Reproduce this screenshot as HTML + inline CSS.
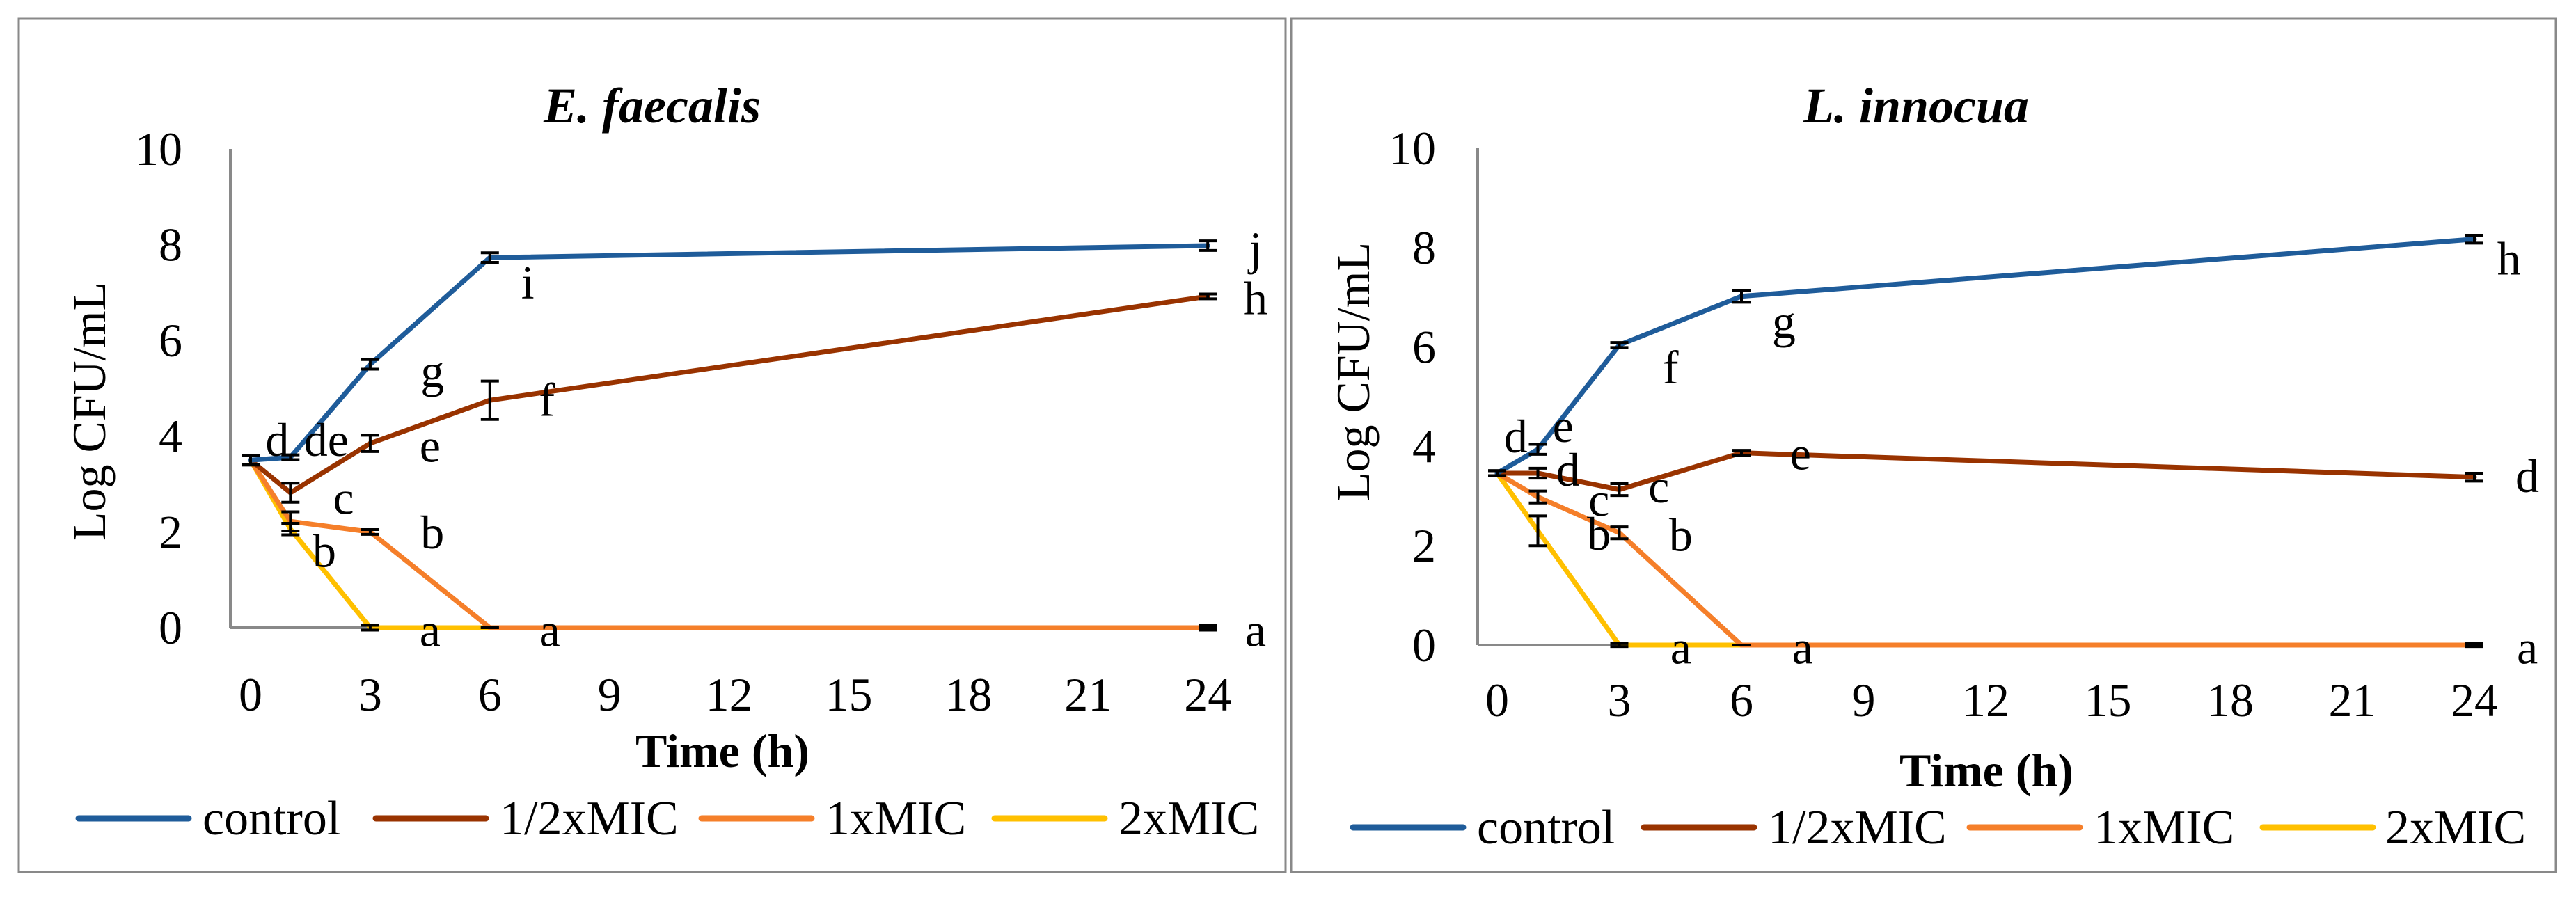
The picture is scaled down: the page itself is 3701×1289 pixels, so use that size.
<!DOCTYPE html>
<html><head><meta charset="utf-8">
<style>
html,body{margin:0;padding:0;background:#fff;}
svg{display:block;}
text{font-family:"Liberation Serif",serif;fill:#000;}
</style></head>
<body>
<svg id="fig" width="3701" height="1289" viewBox="0 0 3701 1289" xmlns="http://www.w3.org/2000/svg">
<rect x="0" y="0" width="3701" height="1289" fill="#fff"/>
<rect x="27" y="27" width="1820" height="1226" fill="none" stroke="#898989" stroke-width="3"/>
<rect x="1855" y="27" width="1817" height="1226" fill="none" stroke="#898989" stroke-width="3"/>
</svg>
<script>
const times = [0, 1, 3, 6, 24];
const seriesNames = ["control", "1/2xMIC", "1xMIC", "2xMIC"];
const seriesColors = ["#1f5c9a", "#993300", "#f57f2a", "#ffc000"];
const xTicks = [0, 3, 6, 9, 12, 15, 18, 21, 24];
const yTicks = [0, 2, 4, 6, 8, 10];

// E. faecalis
const efControl = [3.5, 3.56, 5.5, 7.73, 7.98];
const efHalf = [3.5, 2.82, 3.85, 4.75, 6.92];
const efOne = [3.5, 2.22, 2.0, 0, 0];
const efTwo = [3.5, 2.06, 0, 0, 0];
const efControlErr = [0.1, 0.05, 0.1, 0.1, 0.1];
const efHalfErr = [0.1, 0.2, 0.17, 0.4, 0.05];
const efOneErr = [0.1, 0.2, 0.05, 0, 0];
const efTwoErr = [0.1, 0.12, 0.05, 0, 0.05];
const efLetters = ["d","de","g","e","i","f","c","b","b","a","a","a","j","h"];
const efLetterX = [0.67,1.9,4.56,4.5,6.95,7.43,2.33,4.56,1.85,4.5,7.5,25.2,25.2,25.2];
const efLetterY = [3.85,3.85,5.29,3.73,7.14,4.69,2.64,1.92,1.53,-0.12,-0.12,-0.12,7.85,6.81];

// L. innocua
const liControl = [3.46, 3.94, 6.04, 7.02, 8.17];
const liHalf = [3.46, 3.46, 3.13, 3.87, 3.38];
const liOne = [3.46, 2.98, 2.26, 0, 0];
const liTwo = [3.46, 2.3, 0, 0, 0];
const liControlErr = [0.05, 0.1, 0.05, 0.12, 0.08];
const liHalfErr = [0.05, 0.1, 0.12, 0.05, 0.08];
const liOneErr = [0.05, 0.12, 0.12, 0, 0];
const liTwoErr = [0.05, 0.3, 0.03, 0, 0.03];
const liLetters = ["d","e","d","c","b","c","b","f","g","e","h","d","a","a","a"];
const liLetterX = [0.46,1.62,1.74,2.5,2.5,3.97,4.51,4.26,7.04,7.45,24.85,25.3,4.51,7.5,25.3];
const liLetterY = [4.13,4.34,3.46,2.86,2.17,3.12,2.15,5.52,6.44,3.79,7.71,3.33,-0.12,-0.12,-0.12];

const NS = "http://www.w3.org/2000/svg";
const svg = document.getElementById("fig");
function mk(tag, attrs, parent) {
  const e = document.createElementNS(NS, tag);
  for (const k in attrs) e.setAttribute(k, attrs[k]);
  (parent || svg).appendChild(e);
  return e;
}

function drawChart(cfg) {
  const g = mk("g", {});
  
  
  const X = h => cfg.x0 + h * cfg.xs;
  const Y = v => cfg.y0 - v * cfg.ys;
  const t = mk("text", {x: cfg.titleX, y: cfg.titleY + 24, "text-anchor": "middle", "font-size": 72, "font-style": "italic", "font-weight": "bold"}, g);
  t.textContent = cfg.title;
  
  
  const ya = mk("line", {x1: cfg.axisX, y1: Y(10), x2: cfg.axisX, y2: Y(0), stroke: "#898989", "stroke-width": 4}, g);
  
  
  const xa = mk("line", {x1: cfg.axisX, y1: Y(0), x2: X(24.1), y2: Y(0), stroke: "#898989", "stroke-width": 4}, g);
  
  
  yTicks.forEach(v => {
    const e = mk("text", {x: cfg.yLabelRight, y: Y(v) + 23, "text-anchor": "end", "font-size": 68}, g);
    e.textContent = String(v);
    
    
  });
  xTicks.forEach(v => {
    const e = mk("text", {x: X(v), y: cfg.xLabelY + 23, "text-anchor": "middle", "font-size": 68}, g);
    e.textContent = String(v);
    
    
  });
  const xt = mk("text", {x: cfg.xTitleX, y: cfg.xTitleY + 23, "text-anchor": "middle", "font-size": 68, "font-weight": "bold"}, g);
  xt.textContent = "Time (h)";
  
  
  const yt = mk("text", {x: 0, y: 0, "text-anchor": "middle", "font-size": 68, transform: `translate(${cfg.yTitleX + 23},${cfg.yTitleY}) rotate(-90)`}, g);
  yt.textContent = "Log CFU/mL";
  
  
  for (let s = 3; s >= 0; s--) {
    const vals = cfg.series[s];
    const pts = times.map((h, i) => X(h) + "," + Y(vals[i])).join(" ");
    const pl = mk("polyline", {points: pts, fill: "none", stroke: seriesColors[s], "stroke-width": 7, "stroke-linejoin": "round", "stroke-linecap": "round"}, g);
    
    
  }
  for (let s = 0; s < 4; s++) {
    const vals = cfg.series[s], errs = cfg.errs[s];
    times.forEach((h, i) => {
      const e = errs[i];
      const x = X(h), y1 = Y(vals[i] + e), y2 = Y(vals[i] - e);
      const eb = mk("path", {d: `M${x},${y1}V${y2}M${x-13},${y1}H${x+13}M${x-13},${y2}H${x+13}`, stroke: "#000", "stroke-width": 4, fill: "none"}, g);
      
      
    });
  }
  cfg.letters.forEach((L, i) => {
    const e = mk("text", {x: X(cfg.lx[i]), y: Y(cfg.ly[i]) + 18, "text-anchor": "middle", "font-size": 68}, g);
    e.textContent = L;
    
    
  });
  cfg.legend.forEach((lg, s) => {
    const ln = mk("line", {x1: lg[0], y1: cfg.legendY, x2: lg[0] + 158, y2: cfg.legendY, stroke: seriesColors[s], "stroke-width": 9, "stroke-linecap": "round"}, g);
    
    
    const tx = mk("text", {x: lg[1], y: cfg.legendY + 23, "font-size": 70}, g);
    tx.textContent = seriesNames[s];
    
    
  });
}

drawChart({
  id: "e-faecalis", title: "E. faecalis",
  x0: 360, xs: 57.3, y0: 902, ys: 68.8, axisX: 331,
  titleX: 937, titleY: 152, yLabelRight: 262, xLabelY: 998,
  xTitleX: 1038, xTitleY: 1079, yTitleX: 128, yTitleY: 591,
  series: [efControl, efHalf, efOne, efTwo],
  errs: [efControlErr, efHalfErr, efOneErr, efTwoErr],
  letters: efLetters, lx: efLetterX, ly: efLetterY,
  legendY: 1176,
  legend: [[113, 291], [540, 718], [1008, 1186], [1429, 1607]]
});
drawChart({
  id: "l-innocua", title: "L. innocua",
  x0: 2151, xs: 58.5, y0: 927, ys: 71.4, axisX: 2123,
  titleX: 2753, titleY: 152, yLabelRight: 2063, xLabelY: 1006,
  xTitleX: 2854, xTitleY: 1107, yTitleX: 1944, yTitleY: 534,
  series: [liControl, liHalf, liOne, liTwo],
  errs: [liControlErr, liHalfErr, liOneErr, liTwoErr],
  letters: liLetters, lx: liLetterX, ly: liLetterY,
  legendY: 1189,
  legend: [[1944, 2122], [2362, 2540], [2830, 3008], [3251, 3427]]
});
</script>
</body></html>
